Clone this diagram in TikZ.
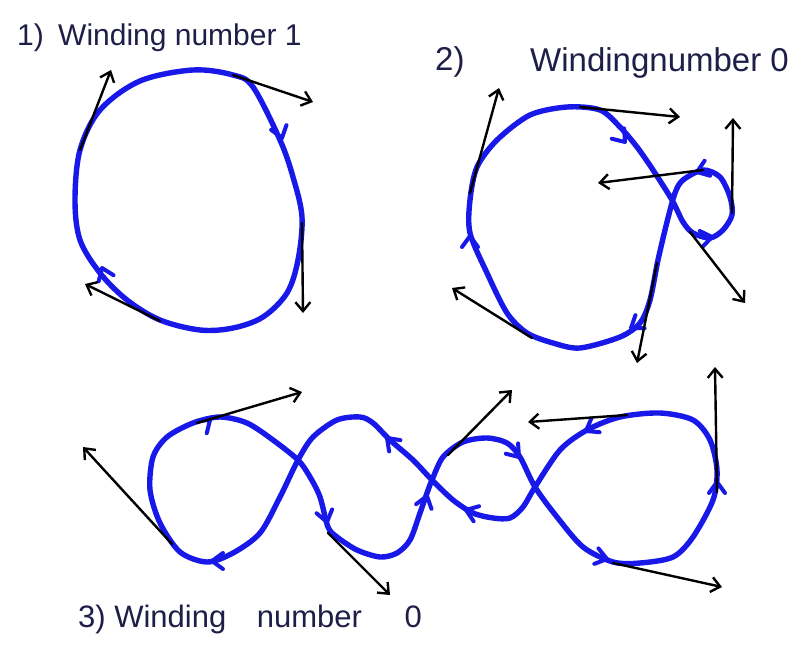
\documentclass[tikz,border=0pt]{standalone}
\usepackage{fontspec}
\setmainfont{Liberation Sans}
\usetikzlibrary{arrows.meta}
\definecolor{curveblue}{RGB}{24,24,232}
\definecolor{inkblue}{RGB}{30,30,72}
\begin{document}
\begin{tikzpicture}[x=1pt,y=-1pt,
  bluecurve/.style={draw=curveblue, line width=5.4pt, line cap=round, line join=round},
  tanarrow/.style={draw=black, line width=2.4pt, line cap=round, -{Straight Barb[length=9pt,width=15pt]}},
  handtext/.style={text=inkblue, anchor=base west, inner sep=0pt},
  chev/.pic={\draw[curveblue, line width=4pt, line cap=round, line join=round] (-11,-8) -- (0,0) -- (-11,8);}
]
\fill[white] (0,0) rectangle (797,655);
\useasboundingbox (0,0) rectangle (797,655);

% ---------- labels ----------
\node[handtext, font=\fontsize{30}{32}\selectfont] (lab1) at (17,46) {1)\hspace{6pt} Winding number 1};
\node[handtext, font=\fontsize{33}{35}\selectfont] (lab2a) at (435,71) {2)};
\node[handtext, font=\fontsize{33}{35}\selectfont] (lab2b) at (530,72) {Windingnumber 0};
\node[handtext, font=\fontsize{31}{33}\selectfont] (lab3) at (78,627) {3) Winding\hspace{22pt} number\hspace{34pt} 0};

% ---------- figure 1 ----------
\draw[bluecurve] plot[smooth cycle, tension=0.55] coordinates {
 (193,70) (233,75) (253,87) (280,140) (293,177) (302,217) (298,260) (287,293)
 (263,317) (233,328) (200,330) (160,320) (127,300) (100,273) (80,240) (75,200)
 (80,150) (100,110) (140,81)};
\pic[rotate=-73] at (282,138) {chev};
\pic[rotate=112] at (102,268) {chev};
\coordinate (a1s) at (80,150);  \coordinate (a1e) at (111,70);
\coordinate (a2s) at (233,75);  \coordinate (a2e) at (313,102);
\coordinate (a3s) at (302,223); \coordinate (a3e) at (303,313);
\coordinate (a4s) at (160,321); \coordinate (a4e) at (85,284);
\foreach \p in {a1,a2,a3,a4} \draw[tanarrow] (\p s) -- (\p e);

% ---------- figure 2 ----------
\draw[bluecurve] plot[smooth cycle, tension=0.5] coordinates {
 (567,107) (600,110) (620,127) (637,147) (653,170) (672,200) (683,222) (693,233)
 (710,238) (723,230) (732,215) (730,197) (720,177) (703,170) (683,180) (675,193)
 (667,222) (658,260) (650,300) (640,323) (620,337) (580,348) (553,343) (527,333)
 (507,313) (487,273) (470,233) (470,200) (477,167) (497,140) (530,115)};
\pic[rotate=-50] at (625,142) {chev};
\pic[rotate=90] at (470,236) {chev};
\pic[rotate=-145] at (631,328) {chev};
\pic[rotate=200] at (697,172) {chev};
\pic[rotate=10] at (712,237) {chev};
\coordinate (b1s) at (470,193); \coordinate (b1e) at (499,88);
\coordinate (b2s) at (580,107); \coordinate (b2e) at (680,117);
\coordinate (b3s) at (703,170); \coordinate (b3e) at (598,183);
\coordinate (b4s) at (732,213); \coordinate (b4e) at (733,118);
\coordinate (b5s) at (690,232); \coordinate (b5e) at (745,303);
\coordinate (b6s) at (657,263); \coordinate (b6e) at (637,363);
\coordinate (b7s) at (532,338); \coordinate (b7e) at (452,288);
\foreach \p in {b1,b2,b3,b4,b5,b6,b7} \draw[tanarrow] (\p s) -- (\p e);

% ---------- figure 3 ----------
\draw[bluecurve] plot[smooth cycle, tension=0.5] coordinates {
 (220,417) (247,423) (273,440) (298,460) (310,477) (320,497) (328,527) (337,537)
 (357,550) (380,557) (397,553) (410,540) (420,513) (427,493) (432,480) (443,457)
 (463,442) (487,438) (507,443) (520,457) (535,487) (557,517) (583,547) (613,562)
 (640,563) (673,557) (693,537) (713,500) (717,470) (710,440) (693,420) (660,413)
 (620,417) (587,430) (560,450) (535,487) (523,507) (510,518) (493,518) (473,513)
 (453,500) (432,480) (413,460) (390,440) (373,423) (360,417) (337,420) (313,437)
 (298,460) (280,497) (260,533) (233,553) (207,562) (180,552) (160,523) (150,490)
 (153,457) (167,437) (193,423)};
\pic[rotate=40] at (210,420) {chev};
\pic[rotate=-76] at (327,522) {chev};
\pic[rotate=73] at (427,496) {chev};
\pic[rotate=-50] at (519,457) {chev};
\pic[rotate=-15] at (607,559) {chev};
\pic[rotate=90] at (717,482) {chev};
\pic[rotate=211] at (586,431) {chev};
\pic[rotate=160] at (466,510) {chev};
\pic[rotate=135] at (387,438) {chev};
\pic[rotate=180] at (212,561) {chev};
\coordinate (c1s) at (197,423); \coordinate (c1e) at (302,392);
\coordinate (c2s) at (172,544); \coordinate (c2e) at (83,447);
\coordinate (c3s) at (328,533); \coordinate (c3e) at (390,595);
\coordinate (c4s) at (448,455); \coordinate (c4e) at (512,390);
\coordinate (c5s) at (627,415); \coordinate (c5e) at (528,422);
\coordinate (c6s) at (717,492); \coordinate (c6e) at (715,367);
\coordinate (c7s) at (613,563); \coordinate (c7e) at (722,587);
\foreach \p in {c1,c2,c3,c4,c5,c6,c7} \draw[tanarrow] (\p s) -- (\p e);
\end{tikzpicture}
\end{document}
